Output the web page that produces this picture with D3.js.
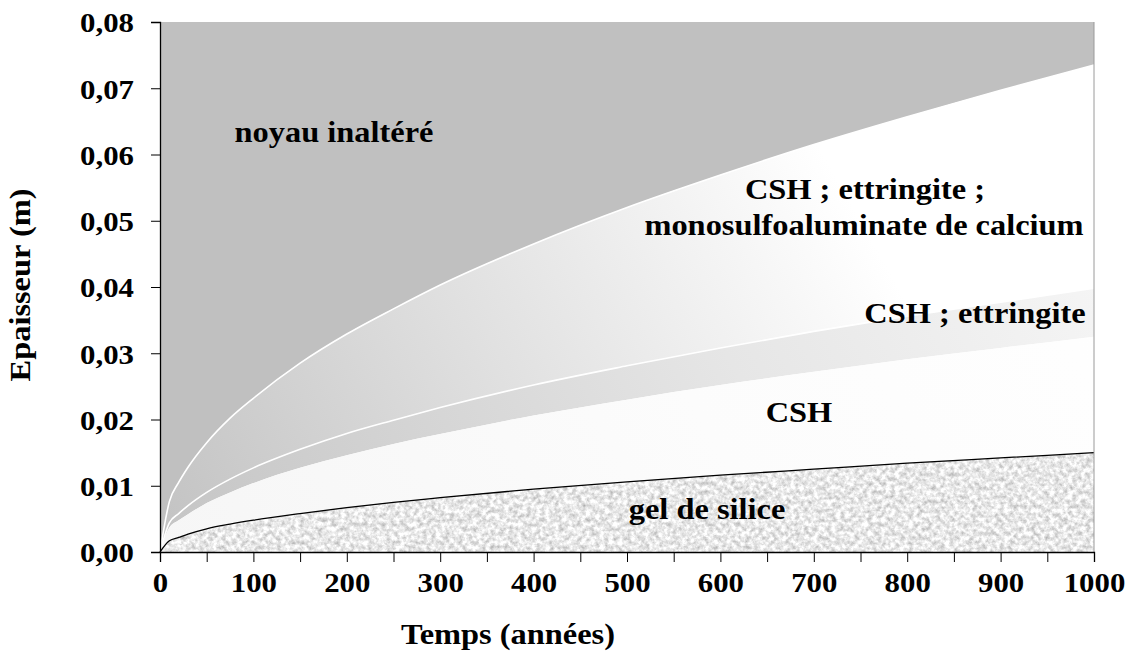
<!DOCTYPE html>
<html>
<head>
<meta charset="utf-8">
<script src="https://cdn.jsdelivr.net/npm/d3@7"></script>
<style>
  html, body { margin: 0; padding: 0; background: #ffffff; }
  svg { display: block; }
</style>
</head>
<body>
<svg id="chart" width="1130" height="656"></svg>
<script>
// ---------------- data ----------------
const times = [0, 10, 20, 30, 50, 75, 100, 150, 200, 250, 300, 400, 500, 600, 700, 800, 900, 1000];
// front of the unaltered core (top white line)
const frontNoyau = [0, 0.0076, 0.0105, 0.0128, 0.0165, 0.0202, 0.0232, 0.0285, 0.0329, 0.0367, 0.0403, 0.0465, 0.0520, 0.0569, 0.0615, 0.0657, 0.0697, 0.0735];
// front CSH ; ettringite ; monosulfoaluminate / CSH ; ettringite (second white line)
const frontMono = [0, 0.0044, 0.0058, 0.0070, 0.0090, 0.0110, 0.0127, 0.0155, 0.0179, 0.0199, 0.0218, 0.0252, 0.0281, 0.0308, 0.0333, 0.0356, 0.0377, 0.0398];
// front CSH ; ettringite / CSH
const frontEtt = [0, 0.0037, 0.0048, 0.0057, 0.0074, 0.0090, 0.0104, 0.0127, 0.0146, 0.0163, 0.0178, 0.0206, 0.0230, 0.0252, 0.0272, 0.0291, 0.0308, 0.0325];
// front CSH / gel de silice (black line)
const frontGel = [0, 0.0017, 0.0022, 0.0027, 0.0035, 0.0042, 0.0048, 0.0058, 0.0067, 0.0075, 0.0082, 0.0095, 0.0106, 0.0116, 0.0125, 0.0134, 0.0142, 0.0150];

const xTicks = [0, 100, 200, 300, 400, 500, 600, 700, 800, 900, 1000];
const xTickLabels = ["0", "100", "200", "300", "400", "500", "600", "700", "800", "900", "1000"];
const xMinorTicks = [50, 150, 250, 350, 450, 550, 650, 750, 850, 950];
const yTicks = [0, 0.01, 0.02, 0.03, 0.04, 0.05, 0.06, 0.07, 0.08];
const yTickLabels = ["0,00", "0,01", "0,02", "0,03", "0,04", "0,05", "0,06", "0,07", "0,08"];

const zoneLabels = ["noyau inaltéré", "CSH ; ettringite ;", "monosulfoaluminate de calcium", "CSH ; ettringite", "CSH", "gel de silice"];
const xTitle = "Temps (années)";
const yTitle = "Epaisseur (m)";

// ---------------- layout ----------------
const FONT = '"Liberation Serif", "Times New Roman", serif';
const svg = d3.select("#chart");
const x = d3.scaleLinear().domain([0, 1000]).range([160, 1094]);
const y = d3.scaleLinear().domain([0, 0.08]).range([552, 22]);

const rows = times.map((t, i) => ({ t, noyau: frontNoyau[i], mono: frontMono[i], ett: frontEtt[i], gel: frontGel[i] }));

// ---------------- defs ----------------
const defs = svg.append("defs");
function diagGrad(id, stops) {
  const g = defs.append("linearGradient").attr("id", id)
    .attr("gradientUnits", "userSpaceOnUse")
    .attr("x1", x(0)).attr("y1", y(0)).attr("x2", x(1000)).attr("y2", y(0.08));
  stops.forEach(s => g.append("stop").attr("offset", s[0]).attr("stop-color", s[1]));
}
diagGrad("gBand", [[0, "#c2c2c2"], [0.72, "#ffffff"], [1, "#ffffff"]]);
diagGrad("gEtt", [[0, "#c4c4c4"], [0.55, "#e6e6e6"], [0.95, "#f8f8f8"], [1, "#fafafa"]]);
diagGrad("gCsh", [[0, "#f6f6f6"], [0.5, "#fcfcfc"], [1, "#ffffff"]]);

const filt = defs.append("filter").attr("id", "granite")
  .attr("x", 0).attr("y", 0).attr("width", 1).attr("height", 1)
  .attr("color-interpolation-filters", "sRGB");
filt.append("feTurbulence").attr("type", "fractalNoise").attr("baseFrequency", 0.22)
  .attr("numOctaves", 4).attr("seed", 7).attr("result", "noise");
filt.append("feColorMatrix").attr("in", "noise").attr("type", "matrix")
  .attr("values", "0.5 0 0 0 0.66  0.5 0 0 0 0.66  0.5 0 0 0 0.66  0 0 0 0 1")
  .attr("result", "gray");
filt.append("feComposite").attr("in", "gray").attr("in2", "SourceGraphic").attr("operator", "in");

// ---------------- areas ----------------
const curve = d3.curveMonotoneX;
function band(lo, hi) {
  return d3.area().curve(curve).x(d => x(d.t)).y0(d => y(lo(d))).y1(d => y(hi(d)));
}
const g = svg.append("g");
g.append("path").attr("d", band(d => d.noyau, d => 0.08)(rows)).attr("fill", "#c0c0c0");
g.append("path").attr("d", band(d => d.mono, d => d.noyau)(rows)).attr("fill", "url(#gBand)");
g.append("path").attr("d", band(d => d.ett, d => d.mono)(rows)).attr("fill", "url(#gEtt)");
g.append("path").attr("d", band(d => d.gel, d => d.ett)(rows)).attr("fill", "url(#gCsh)");
g.append("path").attr("d", band(d => 0, d => d.gel)(rows)).attr("fill", "#000").attr("filter", "url(#granite)");

// boundary lines
const line = key => d3.line().curve(curve).x(d => x(d.t)).y(d => y(d[key]));
g.append("path").attr("d", line("noyau")(rows)).attr("fill", "none").attr("stroke", "#ffffff").attr("stroke-width", 1.6);
g.append("path").attr("d", line("mono")(rows)).attr("fill", "none").attr("stroke", "#ffffff").attr("stroke-width", 1.6);
g.append("path").attr("d", line("gel")(rows)).attr("fill", "none").attr("stroke", "#000000").attr("stroke-width", 1.3);

// right edge of the plot
g.append("line").attr("x1", x(1000)).attr("x2", x(1000)).attr("y1", y(0.08)).attr("y2", y(0))
  .attr("stroke", "#9a9a9a").attr("stroke-width", 1);

// ---------------- axes ----------------
const SX = 1.1;
const yAxis = svg.append("g").attr("transform", `translate(${x(0)},0)`)
  .call(d3.axisLeft(y).tickValues(yTicks).tickSize(9).tickFormat((d, i) => yTickLabels[i]));
yAxis.selectAll("text")
  .attr("x", null).attr("dy", "0.35em")
  .attr("transform", `translate(-26,0) scale(${SX},1)`)
  .style("font", `bold 28px ${FONT}`).attr("fill", "#000");

const xAxis = svg.append("g").attr("transform", `translate(0,${y(0)})`)
  .call(d3.axisBottom(x).tickValues(xTicks).tickSize(10).tickFormat((d, i) => xTickLabels[i]));
xAxis.selectAll("text")
  .attr("y", null).attr("dy", null)
  .attr("transform", `translate(0,40) scale(${SX},1)`)
  .style("font", `bold 28px ${FONT}`).attr("fill", "#000");
svg.append("g").attr("transform", `translate(0,${y(0)})`)
  .call(d3.axisBottom(x).tickValues(xMinorTicks).tickSize(10).tickFormat(""))
  .select(".domain").remove();
svg.selectAll(".domain").attr("stroke", "#000").attr("stroke-width", 1.3);
svg.selectAll(".tick line").attr("stroke", "#000").attr("stroke-width", 1);

// ---------------- texts ----------------
function txt(s, px, py, size, anchor, sx, rot) {
  svg.append("text")
    .attr("transform", `translate(${px},${py}) rotate(${rot || 0}) scale(${sx},1)`)
    .attr("text-anchor", anchor)
    .style("font", `bold ${size}px ${FONT}`)
    .attr("fill", "#000")
    .text(s);
}
const LS = 1.08;
txt(zoneLabels[0], 334, 142, 30, "middle", LS);
txt(zoneLabels[1], 865, 199, 30, "middle", LS);
txt(zoneLabels[2], 864, 235, 30, "middle", LS);
txt(zoneLabels[3], 975, 323, 30, "middle", LS);
txt(zoneLabels[4], 799, 422, 30, "middle", LS);
txt(zoneLabels[5], 707, 519, 30, "middle", LS);

txt(xTitle, 508, 644, 30, "middle", LS);
txt(yTitle, 30, 285, 30, "middle", LS, -90);
</script>
</body>
</html>
